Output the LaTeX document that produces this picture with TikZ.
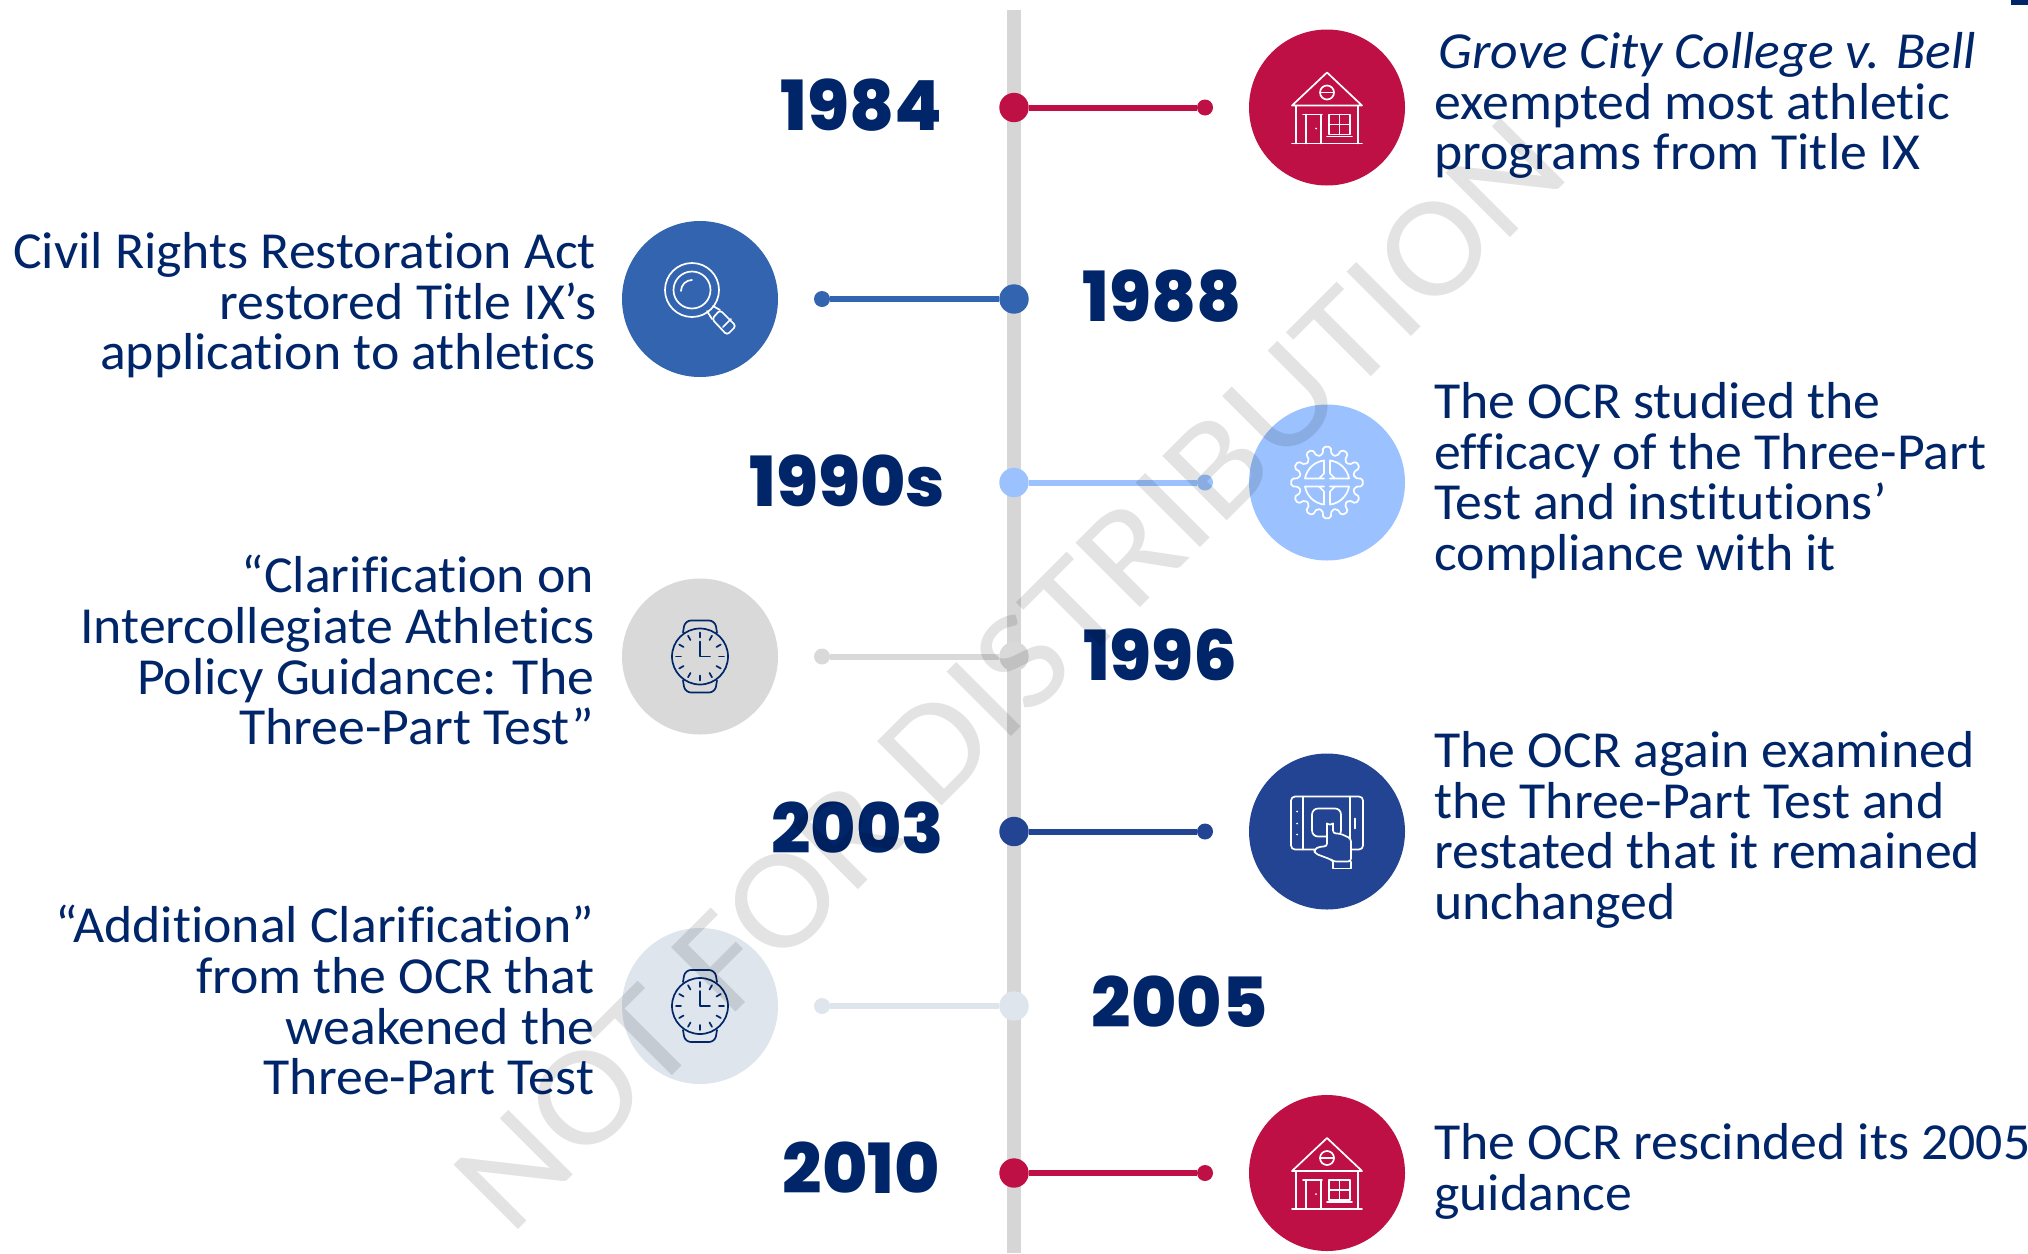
\documentclass[tikz,border=0pt]{standalone}
\usepackage{fontspec}
\setmainfont{Carlito}[Ligatures=NoCommon,FakeStretch=1.034]
\newfontfamily\wmfont{Carlito}[Ligatures=NoCommon,FakeStretch=1.09]
\newfontfamily\yearfont{Poppins}[UprightFont=* Bold,BoldFont=* ExtraBold]
\definecolor{navy}{HTML}{002569}
\definecolor{crimson}{HTML}{BE1045}
\definecolor{midblue}{HTML}{3364AF}
\definecolor{skyblue}{HTML}{9BC2FF}
\definecolor{softgray}{HTML}{D9D9D9}
\definecolor{deepblue}{HTML}{234493}
\definecolor{paleblue}{HTML}{DEE5EC}
\definecolor{axisgray}{HTML}{D6D6D6}
\tikzset{
  x=0.5pt,y=-0.5pt,
  iconbg/.style={circle,fill=#1,minimum size=78pt,inner sep=0pt,draw=none},
  bigdot/.style={circle,fill=#1,minimum size=14.7pt,inner sep=0pt,draw=none},
  smalldot/.style={circle,fill=#1,minimum size=8pt,inner sep=0pt,draw=none},
  link/.style={line width=3pt,draw=#1},
  yearlabel/.style={text=navy,font=\yearfont\fontsize{34.6pt}{36pt}\selectfont\bfseries,inner sep=0pt},
  desc/.style={text=navy,font=\fontsize{26pt}{25.3pt}\selectfont,inner sep=0pt},
  descr/.style={desc,anchor=north west,align=left},
  descl/.style={desc,anchor=north east,align=right},
  whiteline/.style={draw=white,line width=0.85pt,line join=round,line cap=round},
  navyline/.style={draw=navy,line width=0.85pt,line join=round,line cap=round},
}
\newcommand{\firstl}{\rule{0pt}{18pt}}
\newcommand{\houseicon}[1]{%
 \begin{scope}[shift={(#1)},whiteline]
  \draw (-35,-2) -- (0,-35) -- (35,-2) -- cycle;
  \draw (0,-15) circle (7);
  \draw (-7,-15) -- (7,-15);
  \draw (-31,-2) -- (-31,36) (31,-2) -- (31,36);
  \draw (-35,36) -- (35,36);
  \draw (-24,7) -- (-5,7) (-21,7) -- (-21,36) (-6,7) -- (-6,36);
  \fill[white] (-11,21) circle (1);
  \draw (2,7) rectangle (23,27) (12.5,7) -- (12.5,27) (2,17) -- (23,17) (0,29) -- (25,29);
 \end{scope}}
\newcommand{\lensicon}[1]{%
 \begin{scope}[shift={(#1)},whiteline]
  \draw (-8,-9) circle (27) (-8,-9) circle (18.5);
  \draw (-19,-8) arc[start angle=180,end angle=90,radius=11,x radius=11,y radius=-11];
  \draw (13,7) -- (20,11) (7,12) -- (12,20);
  \draw[rounded corners=1.5pt] (20,11) -- (36,27) -- (27,36) -- (12,20) -- cycle;
  \draw (23,28) -- (31,20);
 \end{scope}}
\newcommand{\gearicon}[1]{%
 \begin{scope}[shift={(#1)},whiteline]
  \draw[rounded corners=1pt] (-9:28) \foreach \a in {0,30,...,330} { -- ({\a-9}:28) -- ({\a-6}:36) -- ({\a+6}:36) -- ({\a+9}:28) } -- cycle;
  \foreach \sx/\sy in {1/1,-1/1,1/-1,-1/-1}{
   \begin{scope}[xscale=\sx,yscale=\sy]
    \draw (3,4) -- (22,4) arc[start angle=10,end angle=80,radius=22] -- (3,22) -- (3,9) -- (8,4) -- cycle;
   \end{scope}}
 \end{scope}}
\newcommand{\watchicon}[1]{%
 \begin{scope}[shift={(#1)},navyline]
  \draw (0,0) circle (28);
  \draw[rounded corners=3pt] (-17,-24) -- (-15,-36) -- (15,-36) -- (17,-24);
  \draw[rounded corners=3pt] (-17,24) -- (-15,36) -- (15,36) -- (17,24);
  \foreach \a in {0,30,...,330}{\draw (\a:24) -- (\a:19);}
  \draw (0,-15) -- (0,0) -- (10,0);
 \end{scope}}
\newcommand{\tableticon}[2]{%
 \begin{scope}[shift={(#1)},whiteline]
  \draw[rounded corners=2pt] (-36,-35) rectangle (36,18);
  \draw (-24,-35) -- (-24,18) (23,-35) -- (23,18);
  \foreach \yy in {-20,-8,3}{\fill[white] (-30,\yy) circle (1);}
  \draw (28,-13) -- (28,-3);
  \draw[rounded corners=3pt] (-15,-23) rectangle (14,5);
  \draw[fill=#2,rounded corners=1.5pt] (0,15) -- (0,-10) arc[start angle=180,end angle=360,radius=3,y radius=-3] -- (6,2) -- (13,2) -- (24,7) -- (24,30) -- (6,30) -- (4,28) -- (-12,22) -- (-13,18) -- (-7,15) -- cycle;
  \draw (6,30) rectangle (24,37);
 \end{scope}}
\begin{document}
\begin{tikzpicture}
\useasboundingbox (0,0) rectangle (2028,1253);
\fill[navy] (2011,0) rectangle (2028,5);
\coordinate (axtop) at (1014,10);
\coordinate (axbot) at (1014,1253);
\draw[line width=6.7pt,axisgray] (axtop) -- (axbot);
% dots
\node[bigdot=crimson] (d1) at (1014,107.5) {};
\node[bigdot=midblue] (d2) at (1014,299) {};
\node[bigdot=skyblue] (d3) at (1014,482.5) {};
\node[bigdot=softgray] (d4) at (1014,656.5) {};
\node[bigdot=deepblue] (d5) at (1014,831.5) {};
\node[bigdot=paleblue] (d6) at (1014,1006) {};
\node[bigdot=crimson] (d7) at (1014,1173) {};
\node[smalldot=crimson] (e1) at (1205,107.5) {};
\node[smalldot=midblue] (e2) at (822,299) {};
\node[smalldot=skyblue] (e3) at (1205,482.5) {};
\node[smalldot=softgray] (e4) at (822,656.5) {};
\node[smalldot=deepblue] (e5) at (1205,831.5) {};
\node[smalldot=paleblue] (e6) at (822,1006) {};
\node[smalldot=crimson] (e7) at (1205,1173) {};
\draw[link=crimson] (d1) -- (e1);
\draw[link=midblue] (d2) -- (e2);
\draw[link=skyblue] (d3) -- (e3);
\draw[link=softgray] (d4) -- (e4);
\draw[link=deepblue] (d5) -- (e5);
\draw[link=paleblue] (d6) -- (e6);
\draw[link=crimson] (d7) -- (e7);
% icon circles
\node[iconbg=crimson] (c1) at (1327,107.5) {};
\node[iconbg=midblue] (c2) at (700,299) {};
\node[iconbg=skyblue] (c3) at (1327,482.5) {};
\node[iconbg=softgray] (c4) at (700,656.5) {};
\node[iconbg=deepblue] (c5) at (1327,831.5) {};
\node[iconbg=paleblue] (c6) at (700,1006) {};
\node[iconbg=crimson] (c7) at (1327,1173) {};
\houseicon{1327,107.5}
\lensicon{700,299}
\gearicon{1327,482.5}
\watchicon{700,656.5}
\tableticon{1327,831.5}{deepblue}
\watchicon{700,1006}
\houseicon{1327,1173}
% years
\node[yearlabel] (y1) at (861.5,105) {1984};
\node[yearlabel] (y2) at (1162.5,296) {1988};
\node[yearlabel] (y3) at (847.5,480.5) {1990s};
\node[yearlabel] (y4) at (1160.5,654.5) {1996};
\node[yearlabel] (y5) at (857.5,828) {2003};
\node[yearlabel] (y6) at (1179.5,1002) {2005};
\node[yearlabel] (y7) at (861.5,1167.5) {2010};
% descriptions
\node[descr] (t1) at (1434,32) {\firstl\hspace*{2pt}\textit{Grove City College v. Bell}\\exempted most athletic\\programs from Title IX};
\node[descl] (t2) at (596.5,232) {\firstl Civil Rights Restoration Act\\restored Title IX’s\\application to athletics};
\node[descr] (t3) at (1434,382) {\firstl The OCR studied the\\efficacy of the Three-Part\\Test and institutions’\\compliance with it};
\node[descl] (t4) at (594.5,555) {\firstl “Clarification on\\Intercollegiate Athletics\\Policy Guidance: The\\Three-Part Test”};
\node[descr] (t5) at (1434,731) {\firstl The OCR again examined\\the Three-Part Test and\\restated that it remained\\unchanged};
\node[descl] (t6) at (594.5,905) {\firstl “Additional Clarification”\\from the OCR that\\weakened the\\Three-Part Test};
\node[descr] (t7) at (1434,1123) {\firstl The OCR rescinded its 2005\\guidance};
% watermark
\node[text=black,text opacity=0.11,font=\wmfont\fontsize{71pt}{71pt}\selectfont,inner sep=0pt,anchor=base,rotate=45] (wm) at (1042,706) {NOT FOR DISTRIBUTION};
\end{tikzpicture}
\end{document}
